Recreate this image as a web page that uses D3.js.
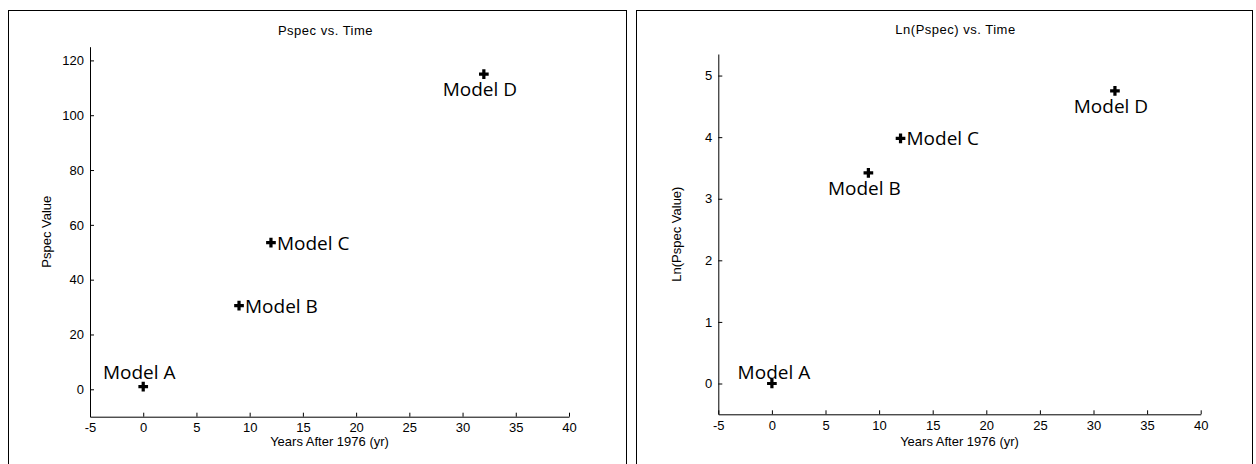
<!DOCTYPE html>
<html>
<head>
<meta charset="utf-8">
<script src="https://cdn.jsdelivr.net/npm/d3@7"></script>
<style>
  body { margin: 0; background: #fff; }
  text { fill: #000; }
  .tick text, .lbl { font-family: "Liberation Sans", Arial, sans-serif; font-size: 13px; }
  .model { font-family: "Open Sans", sans-serif; font-size: 19px; }
</style>
</head>
<body>
<div id="chart"></div>
<script>
// data
const models = ["Model A", "Model B", "Model C", "Model D"];
const years = [0, 9, 12, 32];
const pspec = [1, 30.5, 53.5, 115];
const lnPspec = [0, 3.42, 3.98, 4.75];

const xTicks = [-5, 0, 5, 10, 15, 20, 25, 30, 35, 40];
const pspecTicks = [0, 20, 40, 60, 80, 100, 120];
const lnTicks = [0, 1, 2, 3, 4, 5];

const W = 1256, H = 464;

const svg = d3.select("#chart")
    .append("svg")
    .attr("width", W)
    .attr("height", H);

// where each label sits relative to its marker
const leftPlace = ["above", "right", "right", "below"];
const rightPlace = ["aboveTight", "below", "right", "below"];

// plain hyphen minus like the original
const fmt = d => String(d);

function drawPanel(p) {
    // panel frame
    svg.append("rect")
        .attr("x", p.box[0] + 0.5)
        .attr("y", p.box[1] + 0.5)
        .attr("width", p.box[2] - p.box[0])
        .attr("height", H + 20)
        .attr("fill", "none")
        .attr("stroke", "#000")
        .attr("stroke-width", 1);

    const x = d3.scaleLinear().domain([-5, 40]).range(p.xr);
    const y = d3.scaleLinear().domain(p.yd).range(p.yr);

    svg.append("g")
        .attr("transform", `translate(0,${p.yr[0]})`)
        .call(d3.axisBottom(x).tickValues(xTicks).tickFormat(fmt)
            .tickSizeInner(-4).tickSizeOuter(0).tickPadding(6));

    svg.append("g")
        .attr("transform", `translate(${p.xr[0]},0)`)
        .call(d3.axisLeft(y).tickValues(p.ticks).tickFormat(fmt)
            .tickSizeInner(-4).tickSizeOuter(0).tickPadding(6));

    svg.selectAll(".domain, .tick line").attr("stroke", "#000");

    // title
    svg.append("text")
        .attr("class", "lbl")
        .attr("x", (p.xr[0] + p.xr[1]) / 2 - 4)
        .attr("y", p.titleY)
        .attr("text-anchor", "middle")
        .style("letter-spacing", "0.5px")
        .text(p.title);

    // x label
    svg.append("text")
        .attr("class", "lbl")
        .attr("x", (p.xr[0] + p.xr[1]) / 2)
        .attr("y", 446)
        .attr("text-anchor", "middle")
        .text("Years After 1976 (yr)");

    // y label
    svg.append("text")
        .attr("class", "lbl")
        .attr("transform", `translate(${p.ylabX},${(p.yr[0] + p.yr[1]) / 2}) rotate(-90)`)
        .attr("text-anchor", "middle")
        .text(p.ylab);

    const cross = d3.symbol().type(d3.symbolCross).size(52);

    p.vals.forEach((v, i) => {
        const cx = x(years[i]);
        const cy = y(v);
        svg.append("path")
            .attr("d", cross)
            .attr("transform", `translate(${cx},${cy})`)
            .attr("fill", "#000");

        const t = svg.append("text")
            .attr("class", "model")
            .text(models[i]);
        const pl = p.place[i];
        if (pl === "right") {
            t.attr("x", cx + 6).attr("y", cy + 7).attr("text-anchor", "start");
        } else if (pl === "below") {
            t.attr("x", cx - 4).attr("y", cy + 22).attr("text-anchor", "middle");
        } else if (pl === "above") {
            t.attr("x", cx - 4).attr("y", cy - 8).attr("text-anchor", "middle");
        } else {
            t.attr("x", cx + 2).attr("y", cy - 5).attr("text-anchor", "middle");
        }
    });
}

drawPanel({
    box: [8, 10, 626],
    xr: [90, 569],
    yr: [416.7, 46.7],
    yd: [-10, 125],
    ticks: pspecTicks,
    vals: pspec,
    place: leftPlace,
    title: "Pspec vs. Time",
    titleY: 35,
    ylab: "Pspec Value",
    ylabX: 51
});

drawPanel({
    box: [636, 10, 1252],
    xr: [718.3, 1200.7],
    yr: [414.3, 54],
    yd: [-0.5, 5.35],
    ticks: lnTicks,
    vals: lnPspec,
    place: rightPlace,
    title: "Ln(Pspec) vs. Time",
    titleY: 33.5,
    ylab: "Ln(Pspec Value)",
    ylabX: 681
});
</script>
</body>
</html>
